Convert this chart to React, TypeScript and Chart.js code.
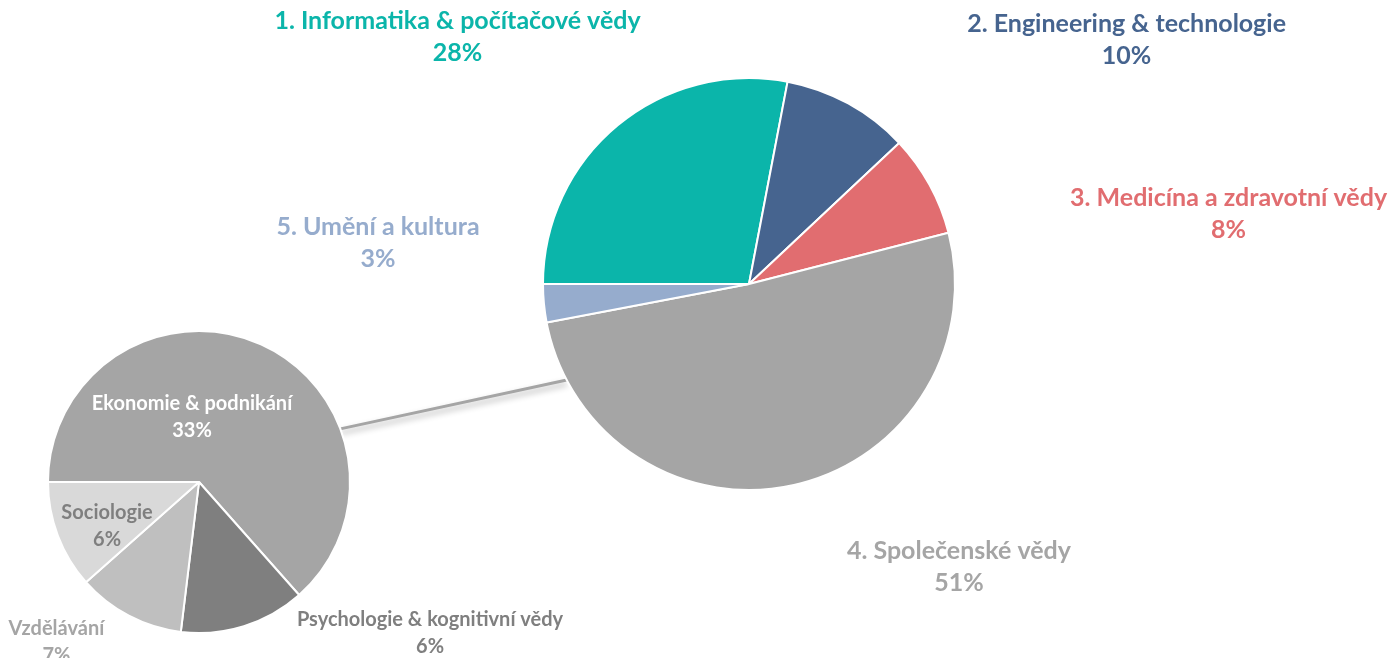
import React, { useEffect, useRef } from 'react';
import { Chart, registerables } from 'chart.js';

Chart.register(...registerables);

// ---- data ----
const mainCategories = [
  '1. Informatika & počítačové vědy',
  '2. Engineering & technologie',
  '3. Medicína a zdravotní vědy',
  '4. Společenské vědy',
  '5. Umění a kultura',
];
const mainValues = [28, 10, 8, 51, 3];
const mainColors = ['#0BB5AA', '#46648F', '#E16D70', '#A5A5A5', '#96ACCD'];

const subCategories = ['Ekonomie & podnikání', 'Psychologie & kognitivní vědy', 'Vzdělávání', 'Sociologie'];
const subValues = [33, 7, 6, 6];
const subPercentLabels = ['33%', '6%', '7%', '6%'];
const subColors = ['#A5A5A5', '#7F7F7F', '#BFBFBF', '#D9D9D9'];
const subLabelColors = ['#FFFFFF', '#7F7F7F', '#A5A5A5', '#7F7F7F'];

// ---- layout (label offsets in units of pie radius, from the pie centre) ----
const mainLabelOffsets: [number, number][] = [
  [-1.415, -1.197],
  [1.833, -1.187],
  [2.328, -0.342],
  [1.019, 1.374],
  [-1.801, -0.201],
];
const subLabelOffsets: [number, number][] = [
  [-0.046, -0.43],
  [1.53, 0.997],
  [-0.944, 1.06],
  [-0.609, 0.291],
];
const connector = { subAngle: 69.4, mainAngle: 242.2 };

const FONT = 'Lato, "Open Sans", sans-serif';
const W = 1391;
const H = 658;

function makeLabelPlugin(names: string[], pcts: string[], colors: string[], offsets: [number, number][], size: number, gap: number) {
  return {
    id: 'sliceLabels',
    afterDraw(chart: any) {
      const arc = chart.getDatasetMeta(0).data[0] as any;
      if (!arc) return;
      const { x, y, outerRadius } = arc.getProps(['x', 'y', 'outerRadius'], true);
      const ctx = chart.ctx as CanvasRenderingContext2D;
      ctx.save();
      ctx.textAlign = 'center';
      ctx.textBaseline = 'middle';
      ctx.font = `bold ${size}px ${FONT}`;
      names.forEach((name, i) => {
        const cx = x + offsets[i][0] * outerRadius;
        const cy = y + offsets[i][1] * outerRadius;
        ctx.fillStyle = colors[i];
        ctx.fillText(name, cx, cy - gap / 2);
        ctx.fillText(pcts[i], cx, cy + gap / 2);
      });
      ctx.restore();
    },
  };
}

export default function App() {
  const mainRef = useRef<HTMLCanvasElement>(null);
  const subRef = useRef<HTMLCanvasElement>(null);

  useEffect(() => {
    if (!mainRef.current || !subRef.current) return;

    const subChart = new Chart(subRef.current, {
      type: 'pie',
      data: {
        labels: subCategories,
        datasets: [
          {
            data: subValues,
            backgroundColor: subColors,
            borderColor: '#FFFFFF',
            borderWidth: 2,
          },
        ],
      },
      options: {
        responsive: false,
        animation: false,
        rotation: -90,
        layout: { padding: { left: 47, right: W - 351, top: 330, bottom: H - 634 } },
        plugins: { legend: { display: false }, tooltip: { enabled: false } },
      },
      plugins: [makeLabelPlugin(subCategories, subPercentLabels, subLabelColors, subLabelOffsets, 20, 27)],
    });

    const connectorPlugin = {
      id: 'connector',
      beforeDatasetsDraw(chart: any) {
        const mArc = chart.getDatasetMeta(0).data[0] as any;
        const sArc = subChart.getDatasetMeta(0).data[0] as any;
        if (!mArc || !sArc) return;
        const m = mArc.getProps(['x', 'y', 'outerRadius'], true);
        const s = sArc.getProps(['x', 'y', 'outerRadius'], true);
        const ma = (connector.mainAngle * Math.PI) / 180;
        const sa = (connector.subAngle * Math.PI) / 180;
        const x1 = s.x + s.outerRadius * Math.sin(sa);
        const y1 = s.y - s.outerRadius * Math.cos(sa);
        const x2 = m.x + m.outerRadius * Math.sin(ma);
        const y2 = m.y - m.outerRadius * Math.cos(ma);
        const ctx = chart.ctx as CanvasRenderingContext2D;
        ctx.save();
        ctx.strokeStyle = '#A5A5A5';
        ctx.lineWidth = 3;
        ctx.shadowColor = 'rgba(0,0,0,0.3)';
        ctx.shadowBlur = 6;
        ctx.shadowOffsetY = 4;
        ctx.beginPath();
        ctx.moveTo(x1, y1);
        ctx.lineTo(x2, y2);
        ctx.stroke();
        ctx.restore();
      },
    };

    const mainChart = new Chart(mainRef.current, {
      type: 'pie',
      data: {
        labels: mainCategories,
        datasets: [
          {
            data: mainValues,
            backgroundColor: mainColors,
            borderColor: '#FFFFFF',
            borderWidth: 2,
          },
        ],
      },
      options: {
        responsive: false,
        animation: false,
        rotation: -90,
        layout: { padding: { left: 542, right: 435, top: 77, bottom: 167 } },
        plugins: { legend: { display: false }, tooltip: { enabled: false } },
      },
      plugins: [
        connectorPlugin,
        makeLabelPlugin(
          mainCategories,
          mainValues.map((v) => `${v}%`),
          mainColors,
          mainLabelOffsets,
          25,
          32
        ),
      ],
    });

    return () => {
      mainChart.destroy();
      subChart.destroy();
    };
  }, []);

  return (
    <div style={{ position: 'fixed', left: 0, top: 0, width: W, height: H, background: '#FFFFFF' }}>
      <canvas ref={mainRef} width={W} height={H} style={{ position: 'absolute', left: 0, top: 0, width: W, height: H }} />
      <canvas ref={subRef} width={W} height={H} style={{ position: 'absolute', left: 0, top: 0, width: W, height: H }} />
    </div>
  );
}
